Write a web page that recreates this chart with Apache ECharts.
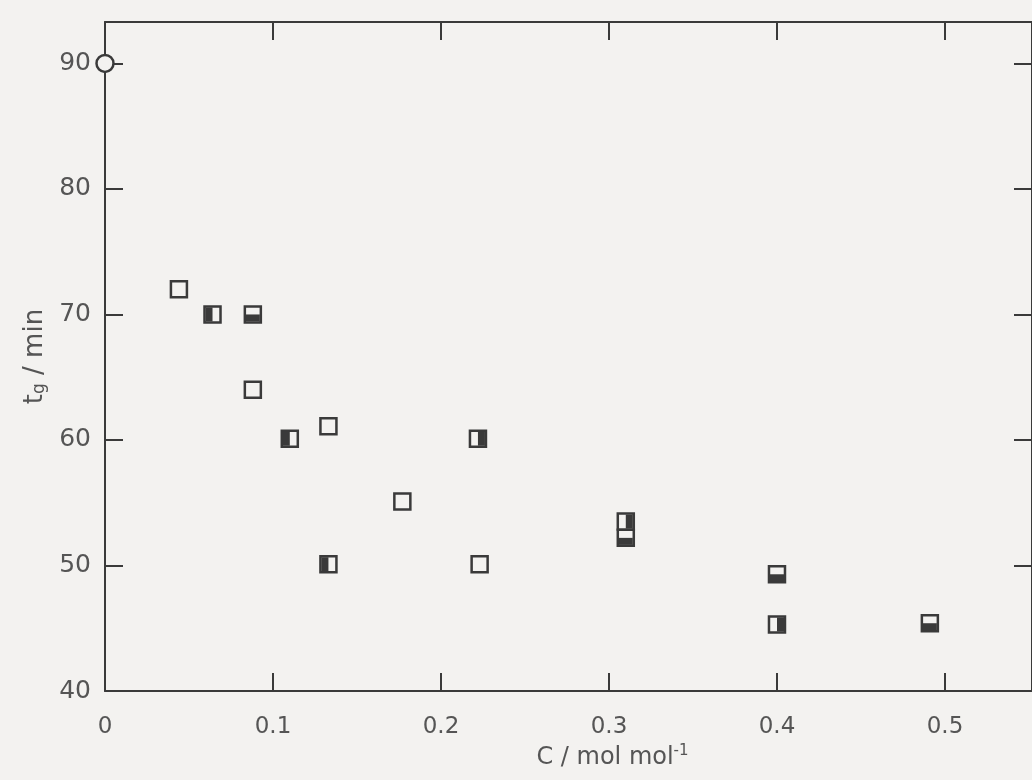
<!DOCTYPE html>
<html>
<head>
<meta charset="utf-8">
<script src="https://cdn.jsdelivr.net/npm/echarts@6/dist/echarts.min.js"></script>
<style>
  html, body { margin: 0; padding: 0; background: #f3f2f0; }
  #main { width: 1032px; height: 780px; }
</style>
</head>
<body>
<div id="main"></div>
<script>
// open squares
const openX = [0.044, 0.088, 0.133, 0.177, 0.223]
const openY = [72.0, 64.0, 61.1, 55.1, 50.1]
// left half filled
const leftX = [0.064, 0.110, 0.133]
const leftY = [70.0, 60.1, 50.1]
// right half filled
const rightX = [0.222, 0.310, 0.400]
const rightY = [60.1, 53.5, 45.3]
// bottom half filled
const bottomX = [0.088, 0.310, 0.400, 0.491]
const bottomY = [70.0, 52.2, 49.3, 45.4]
// open circle on the axis
const circleX = [0]
const circleY = [90]

const xTicks = [0, 0.1, 0.2, 0.3, 0.4, 0.5]
const yTicks = [40, 50, 60, 70, 80, 90]

const ink = '#3a3a3a'
const txt = '#555'
const bg = '#f3f2f0'
const font = 'DejaVu Sans'

function pts(xs, ys) {
  return xs.map((x, i) => [x, ys[i]])
}

// outline square
function outline(xs, ys) {
  return {
    type: 'scatter',
    data: pts(xs, ys),
    symbol: 'rect',
    symbolSize: 16,
    itemStyle: { color: bg, borderColor: ink, borderWidth: 2.5, opacity: 1 },
    z: 3
  }
}

// half fill inside the square
function half(xs, ys, side) {
  let size = [7, 14]
  let off = [-3.5, 0]
  if (side === 'right') off = [3.5, 0]
  if (side === 'bottom') { size = [14, 7]; off = [0, 3.5] }
  return {
    type: 'scatter',
    data: pts(xs, ys),
    symbol: 'rect',
    symbolSize: size,
    symbolOffset: off,
    itemStyle: { color: ink, opacity: 1 },
    z: 4
  }
}

const lineStyle = { color: ink, width: 2 }
const tick = { show: true, inside: true, length: 18, lineStyle: lineStyle }

const chart = echarts.init(document.getElementById('main'))
chart.setOption({
  backgroundColor: bg,
  animation: false,
  grid: { left: 105, top: 22, bottom: 89, width: 927, outerBoundsMode: 'none', containLabel: false },
  xAxis: [{
    type: 'value',
    min: 0,
    max: 0.5518,
    interval: 0.1,
    position: 'bottom',
    axisLine: { show: true, onZero: false, lineStyle: lineStyle },
    axisTick: tick,
    splitLine: { show: false },
    axisLabel: {
      color: txt, fontFamily: font, fontSize: 23, margin: 25, showMaxLabel: false,
      formatter: v => (xTicks.includes(+v.toFixed(1)) ? String(+v.toFixed(1)) : '')
    },
    name: 'C / mol mol{sup|-1}',
    nameLocation: 'middle',
    nameGap: 48,
    nameTextStyle: {
      color: txt, fontFamily: font, fontSize: 24, padding: [0, 0, 0, 88],
      rich: { sup: { color: txt, fontFamily: font, fontSize: 15, verticalAlign: 'top', padding: [0, 0, 12, 0] } }
    }
  }, {
    type: 'value',
    min: 0,
    max: 0.5518,
    interval: 0.1,
    position: 'top',
    axisLine: { show: true, onZero: false, lineStyle: lineStyle },
    axisTick: tick,
    splitLine: { show: false },
    axisLabel: { show: false }
  }],
  yAxis: [{
    type: 'value',
    min: 40,
    max: 93.3,
    interval: 10,
    position: 'left',
    axisLine: { show: true, onZero: false, lineStyle: lineStyle },
    axisTick: tick,
    splitLine: { show: false },
    axisLabel: {
      color: txt, fontFamily: font, fontSize: 25, margin: 14, showMaxLabel: false,
      formatter: v => (yTicks.includes(v) ? String(v) : '')
    },
    name: 't{sub|g} / min',
    nameLocation: 'middle',
    nameGap: 48,
    nameRotate: 90,
    nameTextStyle: {
      color: txt, fontFamily: font, fontSize: 26,
      rich: { sub: { color: txt, fontFamily: font, fontSize: 17, verticalAlign: 'bottom', padding: [10, 0, 0, 0] } }
    }
  }, {
    type: 'value',
    min: 40,
    max: 93.3,
    interval: 10,
    position: 'right',
    axisLine: { show: true, onZero: false, lineStyle: lineStyle },
    axisTick: tick,
    splitLine: { show: false },
    axisLabel: { show: false }
  }],
  series: [
    outline(openX, openY),
    outline(leftX, leftY),
    half(leftX, leftY, 'left'),
    outline(bottomX, bottomY),
    half(bottomX, bottomY, 'bottom'),
    outline(rightX, rightY),
    half(rightX, rightY, 'right'),
    {
      type: 'scatter',
      data: pts(circleX, circleY),
      symbol: 'circle',
      symbolSize: 17,
      clip: false,
      itemStyle: { color: bg, borderColor: ink, borderWidth: 2.5, opacity: 1 },
      z: 5
    }
  ]
})
</script>
</body>
</html>
